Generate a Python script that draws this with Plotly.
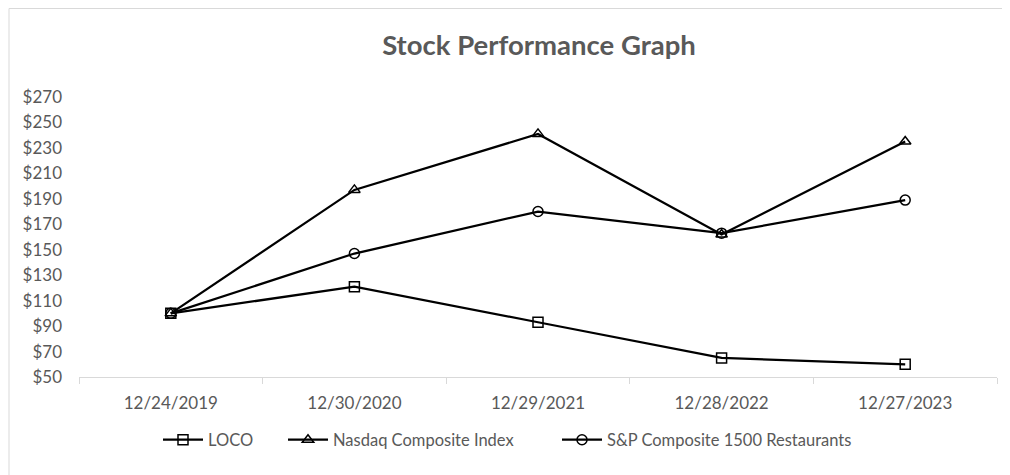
import plotly.graph_objects as go

dates = ["12/24/2019", "12/30/2020", "12/29/2021", "12/28/2022", "12/27/2023"]
loco = [100, 121, 93, 65, 60]
nasdaq = [100, 197, 241, 162, 235]
sp_rest = [100, 147, 180, 163, 189]

y_ticks = list(range(50, 271, 20))
y_labels = [f"${v}" for v in y_ticks]

FONT = "Lato, 'Open Sans', sans-serif"
GREY = "#595959"

# page is rendered with an 8px body margin, so the figure is sized to fit
W, H = 1002, 467
L, R, T, B = 71, 13, 89, 98
PW, PH = W - L - R, H - T - B

fig = go.Figure()
series = [
    ("LOCO", loco, "square-open", "legend"),
    ("Nasdaq Composite Index", nasdaq, "triangle-up-open", "legend2"),
    ("S&P Composite 1500 Restaurants", sp_rest, "circle-open", "legend3"),
]
for name, vals, sym, lg in series:
    fig.add_trace(go.Scatter(
        x=dates, y=vals, name=name, mode="lines+markers", legend=lg,
        line=dict(color="black", width=2.25),
        marker=dict(symbol=sym, size=10, color="black",
                    line=dict(color="black", width=1.5)),
    ))

def legend_at(px):
    return dict(orientation="h", x=(px - 8 - L) / PW, xanchor="left",
                y=(H - B - (440 - 8)) / PH, yanchor="middle",
                font=dict(family=FONT, size=16.5, color=GREY), itemwidth=40,
                bgcolor="rgba(0,0,0,0)")

fig.update_layout(
    width=W, height=H,
    margin=dict(l=L, r=R, t=T, b=B),
    paper_bgcolor="white", plot_bgcolor="white",
    font=dict(family=FONT, size=17, color=GREY),
    title=dict(text="<b>Stock Performance Graph</b>", x=(539 - 8) / W, xanchor="center",
               y=1 - (45 - 8) / H, yanchor="middle",
               font=dict(family=FONT, size=27.5, color=GREY)),
    showlegend=True,
    legend=legend_at(158),
    legend2=legend_at(283),
    legend3=legend_at(557),
    xaxis=dict(type="category", range=[-0.5, 4.5], showgrid=False,
               showline=True, linecolor="#d9d9d9", linewidth=1,
               ticks="outside", tickson="boundaries", ticklen=6, tickcolor="#d9d9d9",
               ticklabelstandoff=11, zeroline=False),
    yaxis=dict(range=[50, 270], tickvals=y_ticks, ticktext=y_labels,
               showgrid=False, showline=False, zeroline=False,
               ticklabelstandoff=16),
    shapes=[dict(type="rect", xref="paper", yref="paper",
                 x0=(1 - L) / PW, x1=1.05, y0=-0.5, y1=(H - B - 0.5) / PH,
                 line=dict(color="#d9d9d9", width=1), layer="below")],
)

fig.write_html("out.html")
